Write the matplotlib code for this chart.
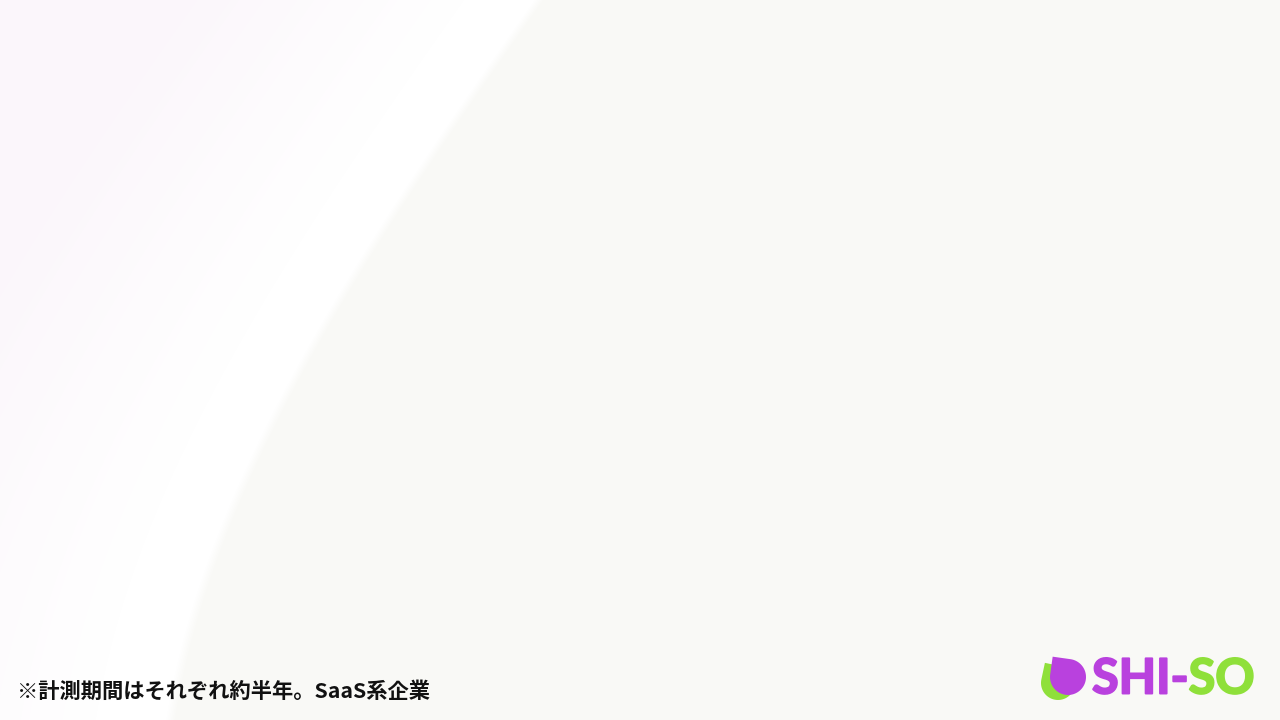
import numpy as np
import matplotlib
matplotlib.use("Agg")
import matplotlib.pyplot as plt
import matplotlib.patheffects as pe
from matplotlib.patches import Polygon

# text on the slide
footnote = "※計測期間はそれぞれ約半年。SaaS系企業"
logo_left = "SHI-"
logo_right = "SO"

# right edge of the white diagonal band (pixel coords)
band_y = [0, 83, 167, 250, 350, 450, 550, 650, 720]
band_x = [530, 483, 417, 363, 300, 260, 210, 180, 165]

W, H = 1280, 720
pink = np.array([251, 246, 251]) / 255
grey = np.array([249, 249, 246]) / 255
white = np.array([1.0, 1.0, 1.0])
purple = "#b941de"
green = "#8fe03a"

# smooth curve through the edge points
edge = np.poly1d(np.polyfit(band_y, band_x, 3))

# background: pink fading into a white band, warm grey to the right
yy, xx = np.mgrid[0:H, 0:W]
xr = edge(yy)
t = np.clip((xr - 70 - xx) / 300, 0, 1)[..., None]
s = np.clip((xx - xr) / 10, 0, 1)[..., None]
bg = white * (1 - t) + pink * t
bg = bg * (1 - s) + grey * s

fig = plt.figure(figsize=(12.8, 7.2), dpi=100)
ax = fig.add_axes([0, 0, 1, 1])
ax.imshow(bg, extent=(0, W, H, 0), interpolation="bilinear")
ax.set_xlim(0, W)
ax.set_ylim(H, 0)
ax.axis("off")


def leaf(cx, cy, r, rot):
    # circle with one square (pointed) corner at the upper left
    a = np.radians(np.linspace(180, 450, 60))
    pts = np.column_stack([np.cos(a), np.sin(a)])
    pts = np.vstack([pts, [-1.0, 1.0]]) * r
    c, sn = np.cos(np.radians(rot)), np.sin(np.radians(rot))
    pts = pts @ np.array([[c, sn], [-sn, c]])
    return np.column_stack([cx + pts[:, 0], cy - pts[:, 1]])


ax.add_patch(Polygon(leaf(1058, 683, 17, -12), closed=True, fc=green, ec="none"))
ax.add_patch(Polygon(leaf(1068, 677, 18, -8), closed=True, fc=purple, ec="none"))

logo = ax.text(1092, 679, logo_left, color=purple, fontsize=35, fontweight="bold",
               family="Lato", va="center", ha="left",
               path_effects=[pe.withStroke(linewidth=1.4, foreground=purple)])
fig.canvas.draw()
bb = logo.get_window_extent().transformed(ax.transData.inverted())
ax.text(bb.x1, 679, logo_right, color=green, fontsize=35, fontweight="bold",
        family="Lato", va="center", ha="left",
        path_effects=[pe.withStroke(linewidth=1.4, foreground=green)])

ax.text(17, 691, footnote, fontsize=15.3, fontweight="bold", color="#111111",
        family=["Noto Sans CJK JP", "DejaVu Sans"], va="center", ha="left")

fig.savefig("out.png", dpi=100)
